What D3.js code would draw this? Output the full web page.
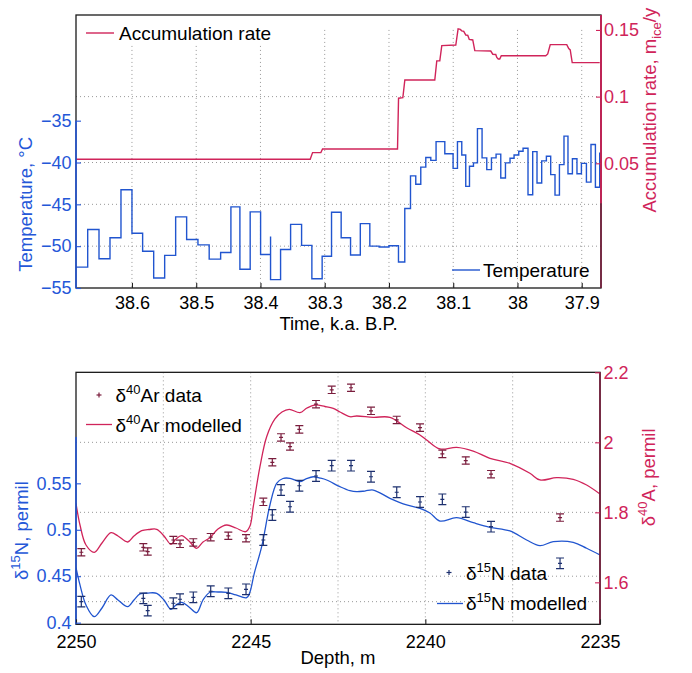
<!DOCTYPE html>
<html>
<head>
<meta charset="utf-8">
<script src="https://cdn.jsdelivr.net/npm/d3@7/dist/d3.min.js"></script>
<style>
  html, body { margin: 0; padding: 0; background: #fff; }
  svg { display: block; }
  text { font-family: "Liberation Sans", Arial, Helvetica, sans-serif; }
</style>
</head>
<body>
<svg id="chart" width="692" height="673"></svg>
<script>
// ---- Upper panel: temperature (step series) and accumulation rate ----
const tempTime = [38.6871, 38.6689, 38.6513, 38.6342, 38.6171, 38.6000, 38.5834, 38.5662, 38.5491, 38.5320,
  38.5149, 38.4973, 38.4798, 38.4620, 38.4460, 38.4320, 38.4160, 38.3998, 38.3843, 38.3843,
  38.3687, 38.3531, 38.3360, 38.3200, 38.3040, 38.2894, 38.2744, 38.2598, 38.2446, 38.2298,
  38.2153, 38.2000, 38.1852, 38.1754, 38.1665, 38.1583, 38.1505, 38.1427, 38.1349, 38.1267,
  38.1131, 38.1002, 38.0934, 38.0867, 38.0805, 38.0747, 38.0685, 38.0623, 38.0551, 38.0478,
  38.0405, 38.0333, 38.0260, 38.0187, 38.0116, 38.0053, 37.9980, 37.9913, 37.9836, 37.9763,
  37.9696, 37.9623, 37.9550, 37.9483, 37.9416, 37.9347, 37.9276, 37.9214, 37.9145, 37.9074,
  37.9005, 37.8927, 37.8856, 37.8787, 37.8720];
const tempValue = [-52.5, -48.0, -51.5, -49.0, -43.25, -48.45, -50.6, -53.8, -51.1, -46.5,
  -49.2, -49.85, -51.55, -50.75, -45.3, -52.75, -45.9, -51.0, -48.85, -54.0,
  -50.4, -47.4, -49.9, -53.9, -51.2, -45.95, -49.0, -51.05, -47.3, -50.0,
  -50.1, -49.95, -51.9, -45.5, -41.6, -42.6, -40.55, -39.4, -39.75, -37.5,
  -38.95, -40.7, -37.5, -39.1, -42.85, -40.45, -40.05, -35.95, -39.45, -40.85,
  -39.45, -39.0, -41.85, -40.05, -39.5, -39.1, -38.65, -38.3, -43.85, -38.7,
  -42.45, -39.8, -39.25, -41.45, -43.9, -40.25, -36.85, -41.35, -39.55, -41.35,
  -40.1, -42.35, -37.85, -42.95, -38.8];

const accTime = [38.6871, 38.3226, 38.3189, 38.3060, 38.3034, 38.1867, 38.1851, 38.1784, 38.1753, 38.1287,
  38.1256, 38.1209, 38.1178, 38.0960, 38.0924, 38.0890, 38.0867, 38.0836, 38.0804, 38.0773,
  38.0750, 38.0696, 38.0664, 38.0416, 38.0384, 38.0338, 38.0322, 38.0299, 38.0276, 38.0252,
  37.9560, 37.9529, 37.9490, 37.9233, 37.9202, 37.9179, 37.9148, 37.8720];
const accValue = [0.0530, 0.0530, 0.0580, 0.0580, 0.0607, 0.0607, 0.0988, 0.0992, 0.1125, 0.1125,
  0.1268, 0.1268, 0.1382, 0.1387, 0.1508, 0.1504, 0.1493, 0.1489, 0.1462, 0.1459,
  0.1429, 0.1425, 0.1345, 0.1342, 0.1318, 0.1316, 0.1294, 0.1282, 0.1282, 0.1307,
  0.1307, 0.1320, 0.1390, 0.1390, 0.1361, 0.1350, 0.1255, 0.1255];

const timeTicks = [38.6, 38.5, 38.4, 38.3, 38.2, 38.1, 38.0, 37.9];
const timeTickLabels = ["38.6", "38.5", "38.4", "38.3", "38.2", "38.1", "38", "37.9"];
const tempTicks = [-55, -50, -45, -40, -35];
const tempTickLabels = ["\u221255", "\u221250", "\u221245", "\u221240", "\u221235"];
const accTicks = [0.05, 0.1, 0.15];
const accTickLabels = ["0.05", "0.1", "0.15"];
const tempGrid = [-40, -45, -50];
const accGrid = [0.1];

// ---- Lower panel: isotope data and firn model output vs depth ----
const sampleDepth = [2249.848, 2248.073, 2247.947, 2247.214, 2247.023, 2246.642, 2246.144, 2245.640, 2245.133, 2244.638,
  2244.380, 2244.131, 2243.873, 2243.607, 2243.129, 2242.680, 2242.127, 2241.555, 2240.819, 2240.152,
  2239.513, 2238.843, 2238.119, 2236.144];
const d15NData = [0.4226, 0.4262, 0.4129, 0.4209, 0.4252, 0.4273, 0.4338, 0.4316, 0.4359, 0.4890,
  0.5159, 0.5428, 0.5248, 0.5474, 0.5579, 0.5690, 0.5690, 0.5571, 0.5404, 0.5299,
  0.5328, 0.5191, 0.5033, 0.4639];
const d15NErr = [0.0057, 0.0057, 0.0057, 0.0057, 0.0057, 0.0057, 0.0057, 0.0057, 0.0057, 0.0057,
  0.0057, 0.0057, 0.0057, 0.0057, 0.0057, 0.0057, 0.0057, 0.0057, 0.0057, 0.0057,
  0.0057, 0.0057, 0.0057, 0.0057];
const d40ArData = [1.686, 1.700, 1.688, 1.721, 1.710, 1.714, 1.729, 1.733, 1.726, 1.830,
  1.943, 2.014, 1.988, 2.037, 2.109, 2.150, 2.156, 2.090, 2.064, 2.042,
  1.967, 1.948, 1.909, 1.785];
const d40ArErr = [0.0105, 0.0105, 0.0105, 0.0105, 0.0105, 0.0105, 0.0105, 0.0105, 0.0105, 0.0105,
  0.0105, 0.0105, 0.0105, 0.0105, 0.0105, 0.0105, 0.0105, 0.0105, 0.0105, 0.0105,
  0.0105, 0.0105, 0.0105, 0.0105];

const modelDepthN = [2250.000, 2249.886, 2249.714, 2249.476, 2249.256, 2248.998, 2248.798, 2248.520, 2248.340, 2248.168,
  2247.939, 2247.690, 2247.481, 2247.281, 2247.138, 2246.975, 2246.766, 2246.546, 2246.365, 2246.165,
  2245.936, 2245.687, 2245.421, 2245.115, 2245.020, 2244.897, 2244.685, 2244.448, 2244.256, 2244.076,
  2243.875, 2243.589, 2243.417, 2243.208, 2243.017, 2242.825, 2242.444, 2242.158, 2241.966, 2241.729,
  2241.491, 2241.013, 2240.535, 2240.155, 2239.868, 2239.582, 2239.104, 2238.629, 2238.151, 2237.579,
  2237.101, 2236.720, 2236.339, 2235.767, 2235.383, 2235.000];
const d15NModel = [0.4592, 0.4406, 0.4190, 0.4064, 0.4158, 0.4298, 0.4244, 0.4172, 0.4244, 0.4309,
  0.4319, 0.4316, 0.4244, 0.4144, 0.4190, 0.4219, 0.4169, 0.4107, 0.4244, 0.4327,
  0.4330, 0.4327, 0.4298, 0.4269, 0.4330, 0.4531, 0.4818, 0.5267, 0.5500, 0.5552,
  0.5554, 0.5518, 0.5547, 0.5571, 0.5557, 0.5536, 0.5464, 0.5421, 0.5410, 0.5417,
  0.5428, 0.5339, 0.5267, 0.5231, 0.5181, 0.5094, 0.5130, 0.5076, 0.5027, 0.4987,
  0.4890, 0.4829, 0.4872, 0.4865, 0.4801, 0.4728];

const modelDepthAr = [2250.000, 2249.886, 2249.714, 2249.476, 2249.256, 2248.998, 2248.798, 2248.520, 2248.340, 2248.120,
  2247.911, 2247.690, 2247.481, 2247.281, 2247.138, 2246.975, 2246.766, 2246.546, 2246.365, 2246.165,
  2245.936, 2245.687, 2245.421, 2245.143, 2245.020, 2244.926, 2244.734, 2244.542, 2244.305, 2244.104,
  2243.895, 2243.589, 2243.389, 2243.160, 2242.873, 2242.636, 2242.444, 2242.158, 2241.966, 2241.491,
  2241.013, 2240.535, 2240.155, 2239.963, 2239.582, 2239.104, 2238.629, 2238.151, 2237.579, 2237.006,
  2236.720, 2236.242, 2235.767, 2235.383, 2235.000];
const d40ArModel = [1.8258, 1.7638, 1.7067, 1.6858, 1.7124, 1.7418, 1.7324, 1.7152, 1.7324, 1.7475,
  1.7509, 1.7515, 1.7324, 1.7087, 1.7238, 1.7332, 1.7181, 1.6972, 1.7152, 1.7275,
  1.7524, 1.7638, 1.7552, 1.7447, 1.7609, 1.8161, 1.9304, 2.0161, 2.0667, 2.0867,
  2.0944, 2.0847, 2.0981, 2.1067, 2.1024, 2.0972, 2.0867, 2.0732, 2.0752, 2.0715,
  2.0715, 2.0418, 2.0210, 2.0067, 1.9810, 1.9858, 1.9752, 1.9544, 1.9401, 1.9115,
  1.8924, 1.8989, 1.8944, 1.8781, 1.8524];

const depthTicks = [2250, 2245, 2240, 2235];
const depthTickLabels = ["2250", "2245", "2240", "2235"];
const depthGrid = [2247.5, 2245, 2242.5, 2240, 2237.5];
const nTicks = [0.4, 0.45, 0.5, 0.55];
const nTickLabels = ["0.4", "0.45", "0.5", "0.55"];
const arTicks = [1.6, 1.8, 2.0, 2.2];
const arTickLabels = ["1.6", "1.8", "2", "2.2"];
const nGrid = [0.45, 0.4226];
const arGrid = [2.0, 1.8];

// ---- colours ----
const BLUE = "#2457d8";
const BLUE_LINE = "#2155cf";
const CRIMSON = "#d0245a";
const MAROON = "#7a1d3d";
const NAVY = "#1d306f";
const GRID = "#8c8c8c";

const svg = d3.select("#chart");

function fmt(ticks, labels) {
  return d => labels[ticks.findIndex(t => Math.abs(t - d) < 1e-9)];
}

function styleAxis(g, color, fontSize) {
  g.select(".domain").remove();
  g.selectAll(".tick line").attr("stroke", color).attr("stroke-width", 1.1);
  g.selectAll(".tick text").attr("fill", color).style("font-size", fontSize + "px");
}

function grid(g, x0, x1, y1, hs, vs) {
  const gg = g.append("g").attr("stroke", GRID).attr("stroke-width", 0.9)
    .attr("stroke-dasharray", "1,3");
  hs.forEach(y => gg.append("line").attr("x1", x0).attr("x2", x1).attr("y1", y).attr("y2", y));
  vs.forEach(v => gg.append("line").attr("x1", v.x).attr("x2", v.x).attr("y1", v.y0).attr("y2", y1));
}

// ================= Upper panel =================
const T = { x0: 76, x1: 601, y0: 15, y1: 288 };
const xTime = d3.scaleLinear().domain([38.6871, 37.8700]).range([T.x0, T.x1]);
const yTemp = d3.scaleLinear().domain([-55, -22.37]).range([T.y1, T.y0]);
const yAcc = d3.scaleLinear().domain([-0.0435, 0.1612]).range([T.y1, T.y0]);

const upper = svg.append("g");
upper.append("defs").append("clipPath").attr("id", "clipUpper")
  .append("rect").attr("x", T.x0).attr("y", T.y0).attr("width", T.x1 - T.x0).attr("height", T.y1 - T.y0);

grid(upper, T.x0, T.x1, T.y1,
  accGrid.map(v => yAcc(v)).concat(tempGrid.map(v => yTemp(v))),
  timeTicks.map(t => ({ x: xTime(t), y0: yAcc(0.15) })));

const plotUpper = upper.append("g").attr("clip-path", "url(#clipUpper)");
const accPts = accTime.map((t, i) => [t, accValue[i]]);
plotUpper.append("path").datum(accPts)
  .attr("fill", "none").attr("stroke", CRIMSON).attr("stroke-width", 1.4)
  .attr("d", d3.line().x(d => xTime(d[0])).y(d => yAcc(d[1])));

const tempPts = tempTime.map((t, i) => [t, tempValue[i]]);
plotUpper.append("path").datum(tempPts)
  .attr("fill", "none").attr("stroke", BLUE_LINE).attr("stroke-width", 1.4)
  .attr("d", d3.line().curve(d3.curveStepAfter).x(d => xTime(d[0])).y(d => yTemp(d[1])));

// legend (the upper-left one sits on an opaque box)
upper.append("rect").attr("x", T.x0 + 1).attr("y", T.y0 + 1).attr("width", 222).attr("height", 28).attr("fill", "#fff");
upper.append("line").attr("x1", 86).attr("x2", 114).attr("y1", 33).attr("y2", 33)
  .attr("stroke", CRIMSON).attr("stroke-width", 1.4);
upper.append("text").attr("x", 119).attr("y", 40).style("font-size", "19px").attr("fill", "#000")
  .text("Accumulation rate");
upper.append("line").attr("x1", 452).attr("x2", 480).attr("y1", 270).attr("y2", 270)
  .attr("stroke", BLUE_LINE).attr("stroke-width", 1.4);
upper.append("text").attr("x", 483).attr("y", 277).style("font-size", "19px").attr("fill", "#000")
  .text("Temperature");

// frame and coloured spines
upper.append("rect").attr("x", T.x0).attr("y", T.y0).attr("width", T.x1 - T.x0).attr("height", T.y1 - T.y0)
  .attr("fill", "none").attr("stroke", "#1a1a1a").attr("stroke-width", 1.3);
upper.append("line").attr("x1", T.x0).attr("x2", T.x0).attr("y1", yTemp(-55)).attr("y2", yTemp(-35))
  .attr("stroke", BLUE).attr("stroke-width", 1.6);
upper.append("line").attr("x1", T.x1).attr("x2", T.x1).attr("y1", T.y1).attr("y2", T.y0)
  .attr("stroke", MAROON).attr("stroke-width", 1.6);
upper.append("line").attr("x1", T.x1).attr("x2", T.x1).attr("y1", yAcc(0.02)).attr("y2", T.y0)
  .attr("stroke", CRIMSON).attr("stroke-width", 1.6);

// axes
const gxT = upper.append("g").attr("transform", `translate(0,${T.y1})`)
  .call(d3.axisBottom(xTime).tickValues(timeTicks).tickFormat(fmt(timeTicks, timeTickLabels))
    .tickSizeInner(-5).tickSizeOuter(0).tickPadding(8));
styleAxis(gxT, "#222", 18);
gxT.selectAll(".tick text").attr("fill", "#000");

const gyT = upper.append("g").attr("transform", `translate(${T.x0},0)`)
  .call(d3.axisLeft(yTemp).tickValues(tempTicks).tickFormat(fmt(tempTicks, tempTickLabels))
    .tickSizeInner(-5).tickSizeOuter(0).tickPadding(4.5));
styleAxis(gyT, BLUE, 18);

const gyA = upper.append("g").attr("transform", `translate(${T.x1},0)`)
  .call(d3.axisRight(yAcc).tickValues(accTicks).tickFormat(fmt(accTicks, accTickLabels))
    .tickSizeInner(-5).tickSizeOuter(0).tickPadding(3));
styleAxis(gyA, CRIMSON, 18);

// axis titles
upper.append("text").attr("x", 338.5).attr("y", 330).attr("text-anchor", "middle")
  .style("font-size", "18.5px").attr("fill", "#000").text("Time, k.a. B.P.");
upper.append("text").attr("transform", `translate(31.5,${(yTemp(-55) + yTemp(-35)) / 2}) rotate(-90)`)
  .attr("text-anchor", "middle").style("font-size", "18.5px").attr("fill", BLUE)
  .text("Temperature, \u00B0C");
const accLabel = upper.append("text")
  .attr("transform", `translate(655.5,${(yAcc(0.02) + T.y0) / 2 + 1}) rotate(-90)`)
  .attr("text-anchor", "middle").style("font-size", "18.5px").attr("fill", CRIMSON);
accLabel.append("tspan").text("Accumulation rate, m");
accLabel.append("tspan").attr("dy", 5).style("font-size", "13px").text("ice");
accLabel.append("tspan").attr("dy", -5).text("/y");

// ================= Lower panel =================
const B = { x0: 76, x1: 600, y0: 372.33, y1: 624.33 };
const xDepth = d3.scaleLinear().domain([2250, 2235]).range([B.x0, B.x1]);
const yN = d3.scaleLinear().domain([0.3982, 0.6695]).range([B.y1, B.y0]);
const yAr = d3.scaleLinear().domain([1.48, 2.2]).range([B.y1, B.y0]);

const lower = svg.append("g");
lower.append("defs").append("clipPath").attr("id", "clipLower")
  .append("rect").attr("x", B.x0).attr("y", B.y0).attr("width", B.x1 - B.x0).attr("height", B.y1 - B.y0);

grid(lower, B.x0, B.x1, B.y1,
  arGrid.map(v => yAr(v)).concat(nGrid.map(v => yN(v))),
  depthGrid.map(d => ({ x: xDepth(d), y0: B.y0 })));

const plotLower = lower.append("g").attr("clip-path", "url(#clipLower)");
const smooth = d3.curveCatmullRom.alpha(0.5);
plotLower.append("path").datum(modelDepthAr.map((d, i) => [d, d40ArModel[i]]))
  .attr("fill", "none").attr("stroke", CRIMSON).attr("stroke-width", 1.3)
  .attr("d", d3.line().curve(smooth).x(d => xDepth(d[0])).y(d => yAr(d[1])));
plotLower.append("path").datum(modelDepthN.map((d, i) => [d, d15NModel[i]]))
  .attr("fill", "none").attr("stroke", BLUE_LINE).attr("stroke-width", 1.3)
  .attr("d", d3.line().curve(smooth).x(d => xDepth(d[0])).y(d => yN(d[1])));

function errorBars(g, depths, vals, errs, yScale, color) {
  const cap = 4, arm = 2;
  depths.forEach((d, i) => {
    const x = xDepth(d), y = yScale(vals[i]);
    const yl = yScale(vals[i] - errs[i]), yh = yScale(vals[i] + errs[i]);
    const e = g.append("g").attr("stroke", color).attr("stroke-width", 1.2).attr("fill", "none");
    e.append("line").attr("x1", x).attr("x2", x).attr("y1", yl).attr("y2", yh);
    e.append("line").attr("x1", x - cap).attr("x2", x + cap).attr("y1", yl).attr("y2", yl);
    e.append("line").attr("x1", x - cap).attr("x2", x + cap).attr("y1", yh).attr("y2", yh);
    e.append("line").attr("x1", x - arm).attr("x2", x + arm).attr("y1", y).attr("y2", y);
  });
}
errorBars(plotLower, sampleDepth, d40ArData, d40ArErr, yAr, MAROON);
errorBars(plotLower, sampleDepth, d15NData, d15NErr, yN, NAVY);

// legends
function plusMark(g, x, y, color) {
  g.append("line").attr("x1", x - 2.5).attr("x2", x + 2.5).attr("y1", y).attr("y2", y)
    .attr("stroke", color).attr("stroke-width", 1.2);
  g.append("line").attr("x1", x).attr("x2", x).attr("y1", y - 2.5).attr("y2", y + 2.5)
    .attr("stroke", color).attr("stroke-width", 1.2);
}
function isoText(g, x, y, sup, rest) {
  const t = g.append("text").attr("x", x).attr("y", y).style("font-size", "19px").attr("fill", "#000");
  t.append("tspan").text("\u03B4");
  t.append("tspan").attr("dy", -8).style("font-size", "13px").text(sup);
  t.append("tspan").attr("dy", 8).text(rest);
}
plusMark(lower, 99, 395, MAROON);
isoText(lower, 115.5, 402, "40", "Ar data");
lower.append("line").attr("x1", 86).attr("x2", 112).attr("y1", 424.5).attr("y2", 424.5)
  .attr("stroke", CRIMSON).attr("stroke-width", 1.3);
isoText(lower, 115.5, 431.5, "40", "Ar modelled");
plusMark(lower, 449, 572.5, NAVY);
isoText(lower, 466, 579.5, "15", "N data");
lower.append("line").attr("x1", 437).attr("x2", 463).attr("y1", 603.5).attr("y2", 603.5)
  .attr("stroke", BLUE_LINE).attr("stroke-width", 1.3);
isoText(lower, 466, 610, "15", "N modelled");

// frame and coloured spines
lower.append("rect").attr("x", B.x0).attr("y", B.y0).attr("width", B.x1 - B.x0).attr("height", B.y1 - B.y0)
  .attr("fill", "none").attr("stroke", "#1a1a1a").attr("stroke-width", 1.3);
lower.append("line").attr("x1", B.x0).attr("x2", B.x0).attr("y1", B.y1).attr("y2", yN(0.6))
  .attr("stroke", BLUE).attr("stroke-width", 1.6);
lower.append("line").attr("x1", B.x1).attr("x2", B.x1).attr("y1", B.y1).attr("y2", B.y0)
  .attr("stroke", MAROON).attr("stroke-width", 1.6);

const gxB = lower.append("g").attr("transform", `translate(0,${B.y1})`)
  .call(d3.axisBottom(xDepth).tickValues(depthTicks).tickFormat(fmt(depthTicks, depthTickLabels))
    .tickSizeInner(-5).tickSizeOuter(0).tickPadding(10.7));
styleAxis(gxB, "#222", 18);
gxB.selectAll(".tick text").attr("fill", "#000");

const gyN = lower.append("g").attr("transform", `translate(${B.x0},0)`)
  .call(d3.axisLeft(yN).tickValues(nTicks).tickFormat(fmt(nTicks, nTickLabels))
    .tickSizeInner(-5).tickSizeOuter(0).tickPadding(4.5));
styleAxis(gyN, BLUE, 18);

const gyR = lower.append("g").attr("transform", `translate(${B.x1},0)`)
  .call(d3.axisRight(yAr).tickValues(arTicks).tickFormat(fmt(arTicks, arTickLabels))
    .tickSizeInner(-5).tickSizeOuter(0).tickPadding(3.5));
styleAxis(gyR, CRIMSON, 18);

lower.append("text").attr("x", 338).attr("y", 664).attr("text-anchor", "middle")
  .style("font-size", "18.5px").attr("fill", "#000").text("Depth, m");

function isoLabel(g, x, y, sup, rest, color) {
  const t = g.append("text").attr("transform", `translate(${x},${y}) rotate(-90)`)
    .attr("text-anchor", "middle").style("font-size", "18.5px").attr("fill", color);
  t.append("tspan").text("\u03B4");
  t.append("tspan").attr("dy", -8).style("font-size", "13px").text(sup);
  t.append("tspan").attr("dy", 8).text(rest);
}
isoLabel(lower, 27.5, (B.y1 + yN(0.6)) / 2, "15", "N, permil", BLUE);
isoLabel(lower, 655, (yAr(1.6) + yAr(2.2)) / 2, "40", "A, permil", CRIMSON);
</script>
</body>
</html>
